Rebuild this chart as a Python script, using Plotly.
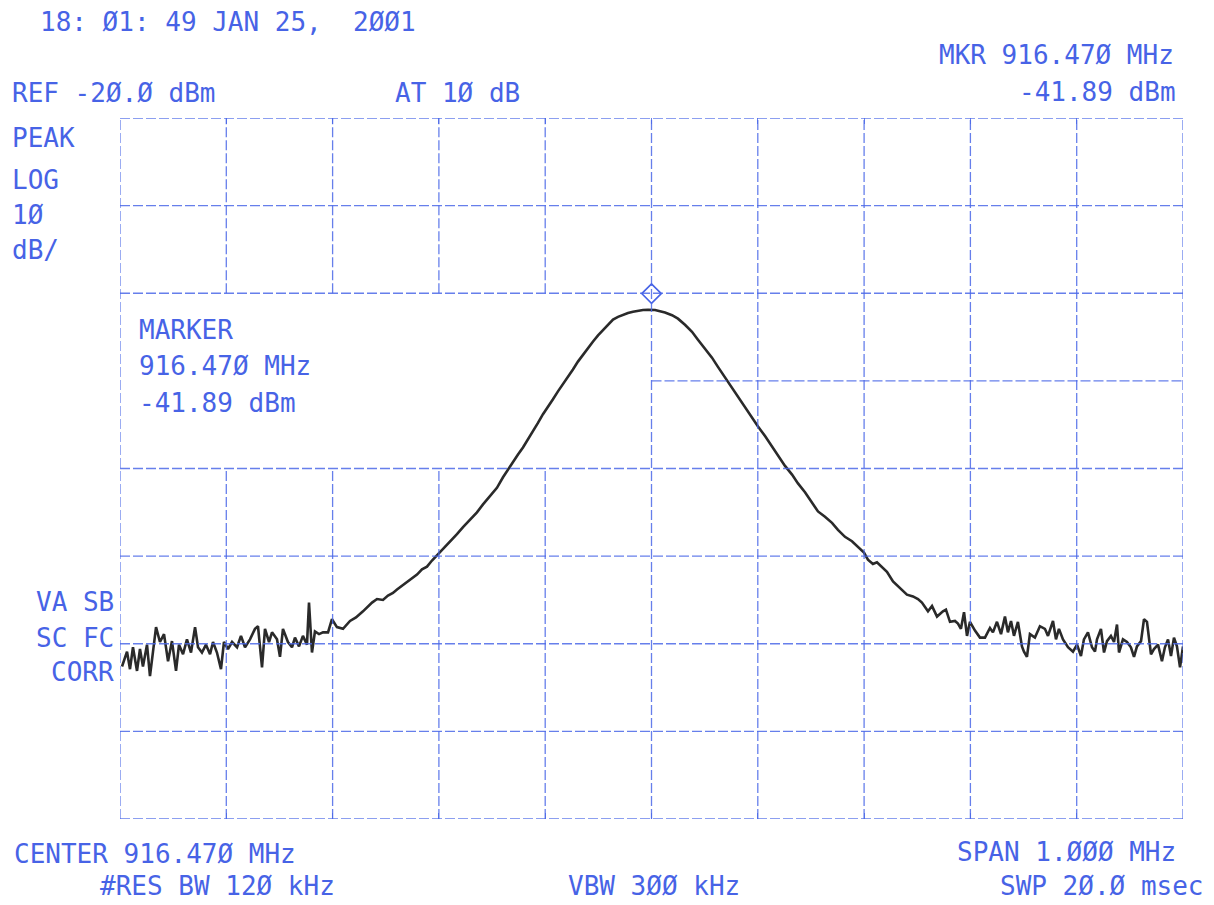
import plotly.graph_objects as go

# ---------------- data ----------------
center_mhz = 916.470
span_mhz = 1.000
ref_dbm = -20.0
db_per_div = 10.0
n_xdiv = 10
n_ydiv = 8

marker_freq = 916.470
marker_dbm = -41.89

freq_mhz = [
    915.9719, 915.9766, 915.9794, 915.9822, 915.9860, 915.9888, 915.9916, 915.9954, 915.9982, 916.0010,
    916.0039, 916.0076, 916.0114, 916.0152, 916.0189, 916.0227, 916.0255, 916.0293, 916.0330, 916.0368,
    916.0406, 916.0434, 916.0471, 916.0509, 916.0547, 916.0575, 916.0612, 916.0650, 916.0678, 916.0716,
    916.0754, 916.0801, 916.0838, 916.0876, 916.0923, 916.0970, 916.0998, 916.1036, 916.1064, 916.1102,
    916.1130, 916.1177, 916.1205, 916.1233, 916.1280, 916.1318, 916.1346, 916.1384, 916.1421, 916.1459,
    916.1478, 916.1506, 916.1534, 916.1572, 916.1610, 916.1657, 916.1694, 916.1741, 916.1798, 916.1864,
    916.1920, 916.1986, 916.2033, 916.2071, 916.2118, 916.2174, 916.2221, 916.2268, 916.2306, 916.2362,
    916.2409, 916.2447, 916.2494, 916.2541, 916.2588, 916.2635, 916.2691, 916.2757, 916.2804, 916.2870,
    916.2927, 916.2992, 916.3058, 916.3115, 916.3181, 916.3246, 916.3303, 916.3350, 916.3397, 916.3444,
    916.3491, 916.3538, 916.3585, 916.3632, 916.3679, 916.3726, 916.3773, 916.3820, 916.3867, 916.3914,
    916.3961, 916.4008, 916.4055, 916.4102, 916.4150, 916.4197, 916.4244, 916.4291, 916.4338, 916.4385,
    916.4432, 916.4479, 916.4526, 916.4573, 916.4620, 916.4667, 916.4700, 916.4733, 916.4761, 916.4827,
    916.4893, 916.4949, 916.5015, 916.5081, 916.5137, 916.5203, 916.5269, 916.5325, 916.5391, 916.5457,
    916.5514, 916.5580, 916.5645, 916.5702, 916.5768, 916.5833, 916.5890, 916.5956, 916.6022, 916.6078,
    916.6144, 916.6210, 916.6266, 916.6332, 916.6398, 916.6454, 916.6520, 916.6586, 916.6642, 916.6699,
    916.6736, 916.6783, 916.6821, 916.6868, 916.6915, 916.6972, 916.7037, 916.7103, 916.7160, 916.7207,
    916.7244, 916.7301, 916.7339, 916.7386, 916.7442, 916.7470, 916.7508, 916.7555, 916.7583, 916.7611,
    916.7640, 916.7668, 916.7696, 916.7743, 916.7790, 916.7837, 916.7884, 916.7912, 916.7950, 916.7988,
    916.8025, 916.8053, 916.8082, 916.8110, 916.8147, 916.8185, 916.8204, 916.8232, 916.8260, 916.8307,
    916.8354, 916.8401, 916.8430, 916.8477, 916.8505, 916.8533, 916.8571, 916.8618, 916.8665, 916.8703,
    916.8740, 916.8768, 916.8806, 916.8844, 916.8872, 916.8891, 916.8928, 916.8957, 916.8985, 916.9022,
    916.9051, 916.9079, 916.9098, 916.9135, 916.9173, 916.9210, 916.9239, 916.9267, 916.9305, 916.9333,
    916.9361, 916.9399, 916.9427, 916.9465, 916.9502, 916.9530, 916.9559, 916.9587, 916.9615, 916.9643,
    916.9672, 916.9700,
]

level_dbm = [
    -82.6, -80.9, -82.9, -80.4, -83.1, -80.6, -82.6, -80.1, -83.7, -80.6,
    -78.1, -79.8, -78.9, -82.0, -79.7, -83.1, -80.1, -81.2, -79.5, -81.0,
    -78.1, -80.4, -81.0, -80.1, -81.2, -79.8, -81.0, -82.9, -79.8, -80.6,
    -79.8, -80.4, -79.1, -80.4, -79.5, -78.3, -78.0, -82.7, -78.3, -79.8,
    -78.7, -79.5, -81.5, -78.3, -79.8, -80.4, -79.3, -80.3, -79.1, -80.1,
    -75.3, -81.0, -78.6, -78.9, -78.7, -78.7, -77.2, -78.1, -78.3, -77.4,
    -77.0, -76.3, -75.7, -75.3, -74.9, -75.0, -74.5, -74.2, -73.8, -73.3,
    -72.9, -72.6, -72.1, -71.5, -71.2, -70.5, -69.8, -68.9, -68.3, -67.5,
    -66.7, -65.9, -65.0, -64.1, -63.2, -62.2, -61.0, -60.1, -59.3, -58.4,
    -57.6, -56.7, -55.8, -54.8, -53.8, -53.0, -52.1, -51.2, -50.4, -49.5,
    -48.7, -47.8, -47.0, -46.2, -45.5, -44.8, -44.2, -43.6, -43.0, -42.7,
    -42.45, -42.25, -42.1, -41.97, -41.92, -41.9, -41.89, -41.92, -42.0, -42.2,
    -42.5, -42.9, -43.6, -44.4, -45.3, -46.3, -47.35, -48.4, -49.6, -50.8,
    -51.9, -53.0, -54.2, -55.2, -56.3, -57.5, -58.6, -59.7, -60.7, -61.7,
    -62.7, -63.9, -64.9, -65.5, -66.2, -67.0, -67.8, -68.3, -69.0, -69.6,
    -70.4, -70.9, -70.7, -71.3, -71.8, -72.9, -73.6, -74.4, -74.6, -74.9,
    -75.3, -76.3, -75.7, -76.9, -76.3, -76.1, -77.5, -77.4, -77.7, -78.3,
    -76.4, -79.1, -77.5, -78.5, -79.3, -79.3, -78.2, -78.7, -77.5, -78.9,
    -76.9, -78.7, -77.4, -79.1, -77.5, -80.3, -80.9, -81.5, -78.9, -79.3,
    -78.0, -78.3, -79.1, -77.4, -79.5, -78.3, -79.5, -80.4, -80.9, -80.1,
    -81.4, -79.5, -78.7, -80.4, -80.9, -79.5, -78.3, -81.0, -79.7, -79.1,
    -79.8, -77.8, -81.0, -79.5, -79.8, -80.4, -81.5, -80.3, -79.7, -77.2,
    -77.5, -81.2, -80.6, -80.1, -82.0, -80.4, -79.5, -81.4, -79.3, -80.3,
    -82.7, -80.3,
]

# ---------------- style ----------------
W, H = 1214, 905
L, R, T, B = 120, 31, 118, 86
BLUE_TXT = "#4763e6"
GRID = "rgba(75,105,232,0.85)"
TRACE = "#2a2a2a"
FONT = "DejaVu Sans Mono"
FS = 26

x0 = center_mhz - span_mhz / 2
x1 = center_mhz + span_mhz / 2
ybot = ref_dbm - db_per_div * n_ydiv
dx = span_mhz / n_xdiv

fig = go.Figure()
fig.add_trace(go.Scatter(
    x=freq_mhz, y=level_dbm, mode="lines",
    line=dict(color=TRACE, width=2.6), hoverinfo="skip", showlegend=False,
))
# marker diamond drawn just above the marker level
fig.add_trace(go.Scatter(
    x=[marker_freq], y=[marker_dbm + 1.85], mode="markers",
    marker=dict(symbol="diamond-open", size=15, color=BLUE_TXT,
                line=dict(width=1.6, color=BLUE_TXT)),
    hoverinfo="skip", showlegend=False,
))

shapes = []
gl = dict(color=GRID, width=1.3, dash="10px,3px")
# vertical grid lines (blank area behind the marker readout)
for i in range(n_xdiv + 1):
    xv = x0 + i * dx
    if 1 <= i <= 4:
        shapes.append(dict(type="line", xref="x", yref="y", x0=xv, x1=xv,
                           y0=ref_dbm - 2 * db_per_div, y1=ref_dbm, line=gl))
        shapes.append(dict(type="line", xref="x", yref="y", x0=xv, x1=xv,
                           y0=ybot, y1=ref_dbm - 4 * db_per_div, line=gl))
    else:
        shapes.append(dict(type="line", xref="x", yref="y", x0=xv, x1=xv,
                           y0=ybot, y1=ref_dbm, line=gl))
# horizontal grid lines
for j in range(n_ydiv + 1):
    yv = ref_dbm - j * db_per_div
    xs = center_mhz if j == 3 else x0
    shapes.append(dict(type="line", xref="x", yref="y", x0=xs, x1=x1,
                       y0=yv, y1=yv, line=gl))

fig.update_layout(shapes=shapes)


def px(x):
    return (x - L) / (W - L - R)


def py(y):
    return (H - B - y) / (H - T - B)


def txt(s, x, y, anchor="left"):
    fig.add_annotation(text=s, xref="paper", yref="paper", x=px(x), y=py(y),
                       xanchor=anchor, yanchor="middle", showarrow=False,
                       font=dict(family=FONT, size=FS, color=BLUE_TXT))


txt("18: Ø1: 49 JAN 25,  2ØØ1", 38, 22)
txt("REF -2Ø.Ø dBm", 10, 93)
txt("AT 1Ø dB", 393, 93)
txt("MKR 916.47Ø MHz", 1176, 55, "right")
txt("-41.89 dBm", 1178, 92, "right")
txt("PEAK", 10, 138)
txt("LOG", 10, 180)
txt("1Ø", 10, 215)
txt("dB/", 10, 250)
txt("MARKER", 137, 330)
txt("916.47Ø MHz", 137, 366)
txt("-41.89 dBm", 137, 403)
txt("VA SB", 116, 602, "right")
txt("SC FC", 116, 638, "right")
txt("CORR", 116, 672, "right")
txt("CENTER 916.47Ø MHz", 12, 854)
txt("SPAN 1.ØØØ MHz", 1178, 852, "right")
txt("#RES BW 12Ø kHz", 98, 886)
txt("VBW 3ØØ kHz", 566, 886)
txt("SWP 2Ø.Ø msec", 1206, 886, "right")

fig.update_xaxes(range=[x0, x1], showgrid=False, zeroline=False,
                 showticklabels=False, showline=False,
                 ticks="inside", ticklen=6, tickcolor=GRID, tickwidth=1.3,
                 tick0=x0, dtick=dx, mirror="ticks", fixedrange=True)
fig.update_yaxes(range=[ybot, ref_dbm], showgrid=False, zeroline=False,
                 showticklabels=False, showline=False, ticks="",
                 fixedrange=True)

fig.update_layout(
    width=W, height=H,
    margin=dict(l=L, r=R, t=T, b=B, pad=0),
    paper_bgcolor="white", plot_bgcolor="white",
    showlegend=False,
)

fig.write_html("out.html", config={"displayModeBar": False})
